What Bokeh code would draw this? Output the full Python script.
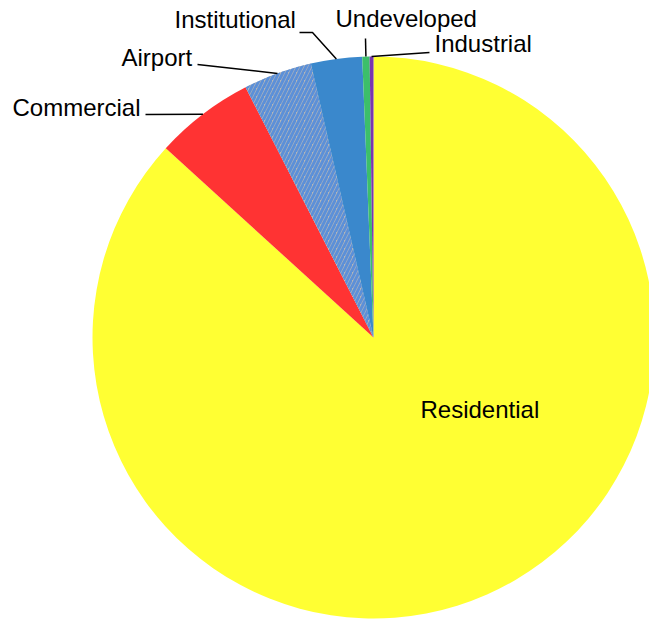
import math
from bokeh.plotting import figure
from bokeh.models import Range1d
from bokeh.core.properties import value
from bokeh.embed import file_html
from bokeh.resources import INLINE

# ---- data (percent of land area, clockwise from 12 o'clock) ----
categories = ["Residential", "Commercial", "Airport", "Institutional", "Undeveloped", "Industrial"]
shares = [86.75, 5.72, 3.94, 2.94, 0.42, 0.22]
colors = ["#FFFF33", "#FF3333", "#B6B6B6", "#3A88CC", "#3CBF6A", "#7A35B0"]

# ---- layout (pixel coordinates of the picture) ----
W, H = 649, 624
def X(x):
    return x
def Y(y):
    return H - y

CX, CY, R = 373, 337, 281
TY = -9  # text vertical adjustment

p = figure(width=W, height=H, output_backend="svg", toolbar_location=None,
           x_range=Range1d(0, W), y_range=Range1d(0, H),
           x_axis_type=None, y_axis_type=None, min_border=0)
p.outline_line_color = None
p.grid.visible = False
p.background_fill_color = "white"

total = sum(shares)
cum = 0.0
mids = []
for cat, s, col in zip(categories, shares, colors):
    a0 = cum / total * 2 * math.pi
    cum += s
    a1 = cum / total * 2 * math.pi
    start = math.pi / 2 - a1
    end = math.pi / 2 - a0
    kw = dict(x=X(CX), y=Y(CY), radius=R, start_angle=start, end_angle=end,
              fill_color=col, line_color=None)
    if cat == "Airport":
        kw.update(hatch_pattern="/", hatch_color="#5C90D8", hatch_scale=8, hatch_weight=3)
    p.wedge(**kw)
    mids.append((a0 + a1) / 2)

def arc_point(a):
    return CX + R * math.sin(a), CY - R * math.cos(a)

font = value("Liberation Sans")
fs = "24px"

labels = {
    "Commercial": dict(tx=12, ty=116, path=[(145, 114)]),
    "Airport": dict(tx=121, ty=66, path=[(197, 64)]),
    "Institutional": dict(tx=174, ty=28, path=[(299, 32), (312, 32)]),
    "Undeveloped": dict(tx=335, ty=27, path=[(365, 38)]),
    "Industrial": dict(tx=434, ty=52, path=[(429, 52)]),
}

for cat, m in zip(categories, mids):
    if cat == "Residential":
        p.text(x=[X(420)], y=[Y(418 + TY)], text=[cat], text_font=font, text_font_size=fs,
               text_color="black", text_baseline="alphabetic", text_align="left")
        continue
    L = labels[cat]
    ax, ay = arc_point(m)
    pts = L["path"] + [(ax, ay)]
    p.line(x=[X(a) for a, b in pts], y=[Y(b) for a, b in pts], line_color="black", line_width=1.5)
    p.text(x=[X(L["tx"])], y=[Y(L["ty"] + TY)], text=[cat], text_font=font, text_font_size=fs,
           text_color="black", text_baseline="alphabetic", text_align="left")

open("out.html", "w").write(file_html(p, INLINE))
